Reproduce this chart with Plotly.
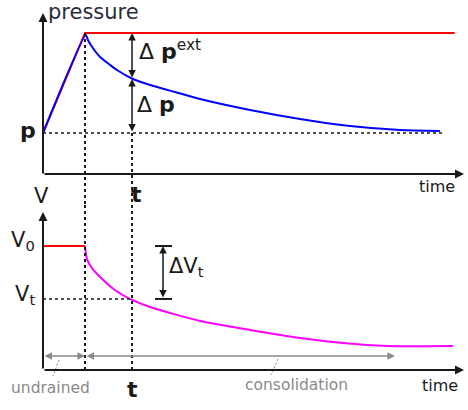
import plotly.graph_objects as go

# ---------------- data ----------------
applied_t = [0.0, 1.0, 9.8]
applied_p = [1.0, 2.0, 2.0]
pore_t = [0.0, 1.02, 1.07, 1.17, 1.36, 1.6, 1.76, 2.14, 2.55, 3.14, 3.74, 4.93, 6.12, 7.31, 8.5, 9.45]
pore_p = [1.0, 1.98, 1.93, 1.86, 1.76, 1.68, 1.63, 1.54, 1.48, 1.41, 1.34, 1.23, 1.14, 1.07, 1.03, 1.02]
vol_undrained_t = [0.0, 1.0]
vol_undrained_v = [1.0, 1.0]
vol_t = [1.0, 1.05, 1.17, 1.36, 1.71, 2.07, 2.55, 3.74, 4.93, 6.12, 7.14, 8.19, 9.76]
vol_v = [1.0, 0.89, 0.82, 0.75, 0.645, 0.573, 0.508, 0.395, 0.323, 0.258, 0.218, 0.194, 0.194]
p0 = 1.0
p_ext = 2.0
t_load = 1.0
t_mark = 2.12
p_at_t = 1.54
V0 = 1.0
Vt = 0.573
undrained_span = [0.0, 1.0]
consolidation_span = [1.0, 8.38]

# ---------------- layout helpers (pixel geometry of the drawing) ----------------
W, H = 468, 410
def tx(px):  # pixel x -> time
    return (px - 43) / 42
def py_p(py):  # pixel y -> pressure (top panel)
    return 1 + (133 - py) / 100
def py_v(py):  # pixel y -> volume (bottom panel)
    return (370 - py) / 124

AX = "#1a1a1a"
GR = "#8a8a8a"
FONT = "DejaVu Sans"

fig = go.Figure()
fig.add_trace(go.Scatter(x=applied_t, y=applied_p, mode="lines",
                         line=dict(color="#ff0000", width=2), yaxis="y"))
fig.add_trace(go.Scatter(x=pore_t, y=pore_p, mode="lines",
                         line=dict(color="#0000ff", width=2, shape="spline", smoothing=0.6), yaxis="y"))
fig.add_trace(go.Scatter(x=vol_undrained_t, y=vol_undrained_v, mode="lines",
                         line=dict(color="#ff0000", width=2), yaxis="y2"))
fig.add_trace(go.Scatter(x=vol_t, y=vol_v, mode="lines",
                         line=dict(color="#ff00ff", width=2, shape="spline", smoothing=0.6), yaxis="y2"))

shapes = []
dot = dict(color=AX, width=2, dash="3px,3px")
shapes.append(dict(type="line", xref="x", yref="y", x0=0, x1=tx(442), y0=p0, y1=p0,
                   line=dict(color=AX, width=1.5, dash="3px,3px")))
shapes.append(dict(type="line", xref="x", yref="y2", x0=0, x1=t_mark, y0=Vt, y1=Vt,
                   line=dict(color=AX, width=1.5, dash="3px,3px")))
shapes.append(dict(type="line", xref="x", yref="y", x0=t_load, x1=t_load, y0=p_ext, y1=py_p(205), line=dot))
shapes.append(dict(type="line", xref="x", yref="y2", x0=t_load, x1=t_load, y0=py_v(205), y1=0, line=dot))
shapes.append(dict(type="line", xref="x", yref="y", x0=t_mark, x1=t_mark, y0=p0, y1=py_p(205), line=dot))
shapes.append(dict(type="line", xref="x", yref="y2", x0=t_mark, x1=t_mark, y0=py_v(205), y1=0, line=dot))
dvx = tx(163)
for v in (V0, Vt):
    shapes.append(dict(type="line", xref="x", yref="y2", x0=tx(155), x1=tx(172), y0=v, y1=v,
                       line=dict(color=AX, width=2)))
shapes.append(dict(type="line", xref="x", yref="y2", x0=tx(59), x1=tx(53), y0=py_v(360), y1=py_v(376),
                   line=dict(color=GR, width=1, dash="2px,2px")))
shapes.append(dict(type="line", xref="x", yref="y2", x0=tx(278), x1=tx(271), y0=py_v(359), y1=py_v(375),
                   line=dict(color=GR, width=1, dash="2px,2px")))

ann = []
def arrow(x, y, ax, ay, yref, color=AX, width=2, both=False, head=2, size=1.0):
    ann.append(dict(x=x, y=y, ax=ax, ay=ay, xref="x", yref=yref, axref="x", ayref=yref,
                    text="", showarrow=True, arrowhead=head, arrowsize=size, arrowwidth=width,
                    arrowcolor=color, startarrowhead=head, startarrowsize=size,
                    arrowside="end+start" if both else "end"))

arrow(0, py_p(13), 0, py_p(175), "y", size=0.9)
arrow(tx(464), py_p(174), 0, py_p(174), "y", size=0.9)
arrow(0, py_v(212), 0, 0, "y2", size=0.9)
arrow(tx(464), 0, 0, 0, "y2", size=0.9)
arrow(t_mark, p_ext, t_mark, p_at_t, "y", width=1.5, both=True)
arrow(t_mark, p_at_t, t_mark, p0, "y", width=1.5, both=True)
arrow(dvx, V0, dvx, Vt, "y2", width=1.5, both=True)
arrow(undrained_span[1], py_v(356), undrained_span[0], py_v(356), "y2", color=GR, width=1.5, both=True)
arrow(consolidation_span[1], py_v(356), consolidation_span[0], py_v(356), "y2", color=GR, width=1.5, both=True)

def txt(x, y, s, yref, size, color=AX, xa="center", ya="middle", bold=False):
    ann.append(dict(x=x, y=y, xref="x", yref=yref, text=f"<b>{s}</b>" if bold else s,
                    showarrow=False, xanchor=xa, yanchor=ya,
                    font=dict(family=FONT, size=size, color=color)))

txt(tx(46), py_p(12), "pressure", "y", 21, color="#2b2b3b", xa="left")
txt(tx(28), py_p(130), "p", "y", 22, bold=True)
txt(tx(137), py_p(50), "Δ <b>p</b><sup>ext</sup>", "y", 22, xa="left")
txt(tx(135), py_p(104), "Δ <b>p</b>", "y", 22, xa="left")
txt(tx(136), py_p(194), "t", "y", 22, bold=True)
txt(tx(437), py_p(186), "time", "y", 16)
txt(tx(41), py_v(196), "V", "y2", 21)
txt(tx(37), py_v(241), "V<sub>0</sub>", "y2", 21, xa="right")
txt(tx(37), py_v(295), "V<sub>t</sub>", "y2", 21, xa="right")
txt(tx(167), py_v(267), "ΔV<sub>t</sub>", "y2", 21, xa="left")
txt(tx(132), py_v(389), "t", "y2", 22, bold=True)
txt(tx(440), py_v(385), "time", "y2", 16)
txt(tx(50), py_v(388), "undrained", "y2", 15.5, color=GR)
txt(tx(296), py_v(385), "consolidation", "y2", 15.5, color=GR)

fig.update_layout(
    width=W, height=H, margin=dict(l=0, r=0, t=0, b=0),
    paper_bgcolor="white", plot_bgcolor="white", showlegend=False,
    xaxis=dict(range=[tx(0), tx(W)], visible=False, domain=[0, 1]),
    yaxis=dict(range=[py_p(H), py_p(0)], visible=False, domain=[0, 1]),
    yaxis2=dict(range=[py_v(H), py_v(0)], visible=False, overlaying="y"),
    shapes=shapes, annotations=ann,
)
fig.write_html("out.html", config={"displayModeBar": False},
               post_script="document.body.style.margin='0';document.body.style.overflow='hidden';")
